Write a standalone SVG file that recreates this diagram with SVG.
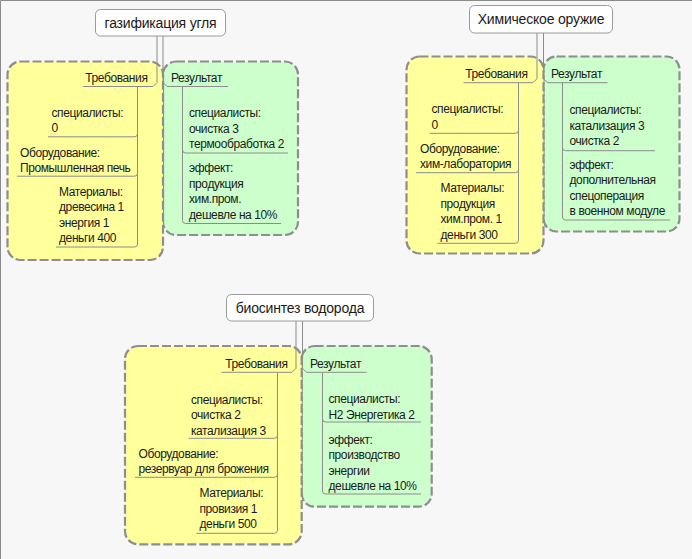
<svg xmlns="http://www.w3.org/2000/svg" width="692" height="559" viewBox="0 0 692 559">
<defs>
<style>
.bg{fill:#f7f7f7}
.frame{fill:none;stroke:#8a8a8a;stroke-width:1}
.yb{fill:#ffff9c;stroke:#8e8e8e;stroke-width:2.2;stroke-dasharray:9 3}
.gb{fill:#ccffcc;stroke:#8e8e8e;stroke-width:2.2;stroke-dasharray:9 3}
.tb{fill:#fff;stroke:#9a9a9a;stroke-width:1}
.ln{fill:none;stroke:#8c8c8c;stroke-width:1}
text{font-family:"Liberation Sans",Arial,sans-serif;font-size:12px;fill:#1a1a1a;letter-spacing:-0.4px}
.tt{font-size:14px;text-anchor:middle;letter-spacing:-0.2px}
.r{text-anchor:end}
</style>
</defs>
<rect class="bg" x="0" y="0" width="692" height="559"/>
<path class="frame" d="M0.5,559 V0.5 H692"/>

<g id="boxes">
<rect class="gb" x="163" y="61.5" width="135" height="173.5" rx="13"/>
<rect class="yb" x="7.5" y="61.5" width="155.5" height="198.5" rx="13"/>
<rect class="gb" x="543.5" y="56.5" width="136" height="175" rx="13"/>
<rect class="yb" x="406.5" y="56.5" width="137" height="197" rx="13"/>
<rect class="gb" x="301.7" y="346" width="130" height="160.7" rx="13"/>
<rect class="yb" x="125" y="346" width="176.7" height="198.3" rx="13"/>
</g>

<g id="connectors">
<!-- group 1 -->
<path class="ln" d="M157,36 V82.5 L153,86.5 H83"/>
<path class="ln" d="M163,36 V82.5 L167,86.5 H228"/>
<path class="ln" d="M137.5,86.5 V244"/>
<path class="ln" d="M48,136.8 H134.5 Q137.5,136.8 137.5,133.8"/>
<path class="ln" d="M17,176.2 H134.5 Q137.5,176.2 137.5,173.2"/>
<path class="ln" d="M56,247 H134.5 Q137.5,247 137.5,244"/>
<path class="ln" d="M182.5,86.5 V220.5"/>
<path class="ln" d="M182.5,150 Q182.5,153 185.5,153 H288"/>
<path class="ln" d="M182.5,220.5 Q182.5,223.5 185.5,223.5 H281"/>
<!-- group 2 -->
<path class="ln" d="M537,33 V78.7 L533,82.7 H463.5"/>
<path class="ln" d="M543.5,33 V78.7 L547.5,82.7 H607.5"/>
<path class="ln" d="M518.5,82.7 V240.3"/>
<path class="ln" d="M429.5,133.3 H515.5 Q518.5,133.3 518.5,130.3"/>
<path class="ln" d="M416,172.7 H515.5 Q518.5,172.7 518.5,169.7"/>
<path class="ln" d="M437.5,243.3 H515.5 Q518.5,243.3 518.5,240.3"/>
<path class="ln" d="M562.5,82.7 V217"/>
<path class="ln" d="M562.5,147.7 Q562.5,150.7 565.5,150.7 H655"/>
<path class="ln" d="M562.5,217 Q562.5,220 565.5,220 H670"/>
<!-- group 3 -->
<path class="ln" d="M296,321 V368.3 L292,372.3 H221.5"/>
<path class="ln" d="M302.5,321 V368.3 L306.5,372.3 H366.5"/>
<path class="ln" d="M277.5,372.3 V530.3"/>
<path class="ln" d="M188.5,438.3 H274.5 Q277.5,438.3 277.5,435.3"/>
<path class="ln" d="M135,477.3 H274.5 Q277.5,477.3 277.5,474.3"/>
<path class="ln" d="M196.5,533.3 H274.5 Q277.5,533.3 277.5,530.3"/>
<path class="ln" d="M322.5,372.3 V491"/>
<path class="ln" d="M322.5,419 Q322.5,422 325.5,422 H421"/>
<path class="ln" d="M322.5,491 Q322.5,494 325.5,494 H421"/>
</g>

<g id="n1">
<rect class="tb" x="95.5" y="9.5" width="130" height="26.5" rx="5"/>
<text class="tt" x="160.5" y="27.5">газификация угля</text>
</g>
<g id="n1-req"><text class="r" x="147.5" y="81.5">Требования</text></g>
<g id="n1-req-spec"><text x="51.5" y="117">специалисты:</text><text x="51.5" y="132.4">0</text></g>
<g id="n1-req-eq"><text x="20" y="156.5">Оборудование:</text><text x="20" y="171.8">Промышленная печь</text></g>
<g id="n1-req-mat"><text x="59" y="196">Материалы:</text><text x="59" y="211.4">древесина 1</text><text x="59" y="226.8">энергия 1</text><text x="59" y="242.2">деньги 400</text></g>
<g id="n1-res"><text x="171" y="81.5">Результат</text></g>
<g id="n1-res-spec"><text x="189" y="117">специалисты:</text><text x="189" y="132.5">очистка 3</text><text x="189" y="148">термообработка 2</text></g>
<g id="n1-res-eff"><text x="189" y="172">эффект:</text><text x="189" y="187.5">продукция</text><text x="189" y="203">хим.пром.</text><text x="189" y="218.5">дешевле на 10%</text></g>

<g id="n2">
<rect class="tb" x="469.5" y="5.5" width="143" height="27.5" rx="5"/>
<text class="tt" x="541" y="23.5">Химическое оружие</text>
</g>
<g id="n2-req"><text class="r" x="527.5" y="78">Требования</text></g>
<g id="n2-req-spec"><text x="431.5" y="113.3">специалисты:</text><text x="431.5" y="128.7">0</text></g>
<g id="n2-req-eq"><text x="420" y="152.7">Оборудование:</text><text x="420" y="168">хим-лаборатория</text></g>
<g id="n2-req-mat"><text x="440.5" y="192.3">Материалы:</text><text x="440.5" y="207.7">продукция</text><text x="440.5" y="223.1">хим.пром. 1</text><text x="440.5" y="238.5">деньги 300</text></g>
<g id="n2-res"><text x="551" y="78">Результат</text></g>
<g id="n2-res-spec"><text x="569.5" y="114">специалисты:</text><text x="569.5" y="129.5">катализация 3</text><text x="569.5" y="145">очистка 2</text></g>
<g id="n2-res-eff"><text x="569.5" y="168.5">эффект:</text><text x="569.5" y="184">дополнительная</text><text x="569.5" y="199.5">спецоперация</text><text x="569.5" y="215">в военном модуле</text></g>

<g id="n3">
<rect class="tb" x="226.5" y="294.5" width="147" height="26.5" rx="5"/>
<text class="tt" x="300" y="312.5">биосинтез водорода</text>
</g>
<g id="n3-req"><text class="r" x="287.5" y="368">Требования</text></g>
<g id="n3-req-spec"><text x="191" y="403.5">специалисты:</text><text x="191" y="419">очистка 2</text><text x="191" y="434.5">катализация 3</text></g>
<g id="n3-req-eq"><text x="138.5" y="457.5">Оборудование:</text><text x="138.5" y="473">резервуар для брожения</text></g>
<g id="n3-req-mat"><text x="199.5" y="497">Материалы:</text><text x="199.5" y="512.5">провизия 1</text><text x="199.5" y="528">деньги 500</text></g>
<g id="n3-res"><text x="310" y="368">Результат</text></g>
<g id="n3-res-spec"><text x="328.5" y="403">специалисты:</text><text x="328.5" y="418.5">H2 Энергетика 2</text></g>
<g id="n3-res-eff"><text x="328.5" y="443.5">эффект:</text><text x="328.5" y="459">производство</text><text x="328.5" y="474.5">энергии</text><text x="328.5" y="490">дешевле на 10%</text></g>
</svg>
